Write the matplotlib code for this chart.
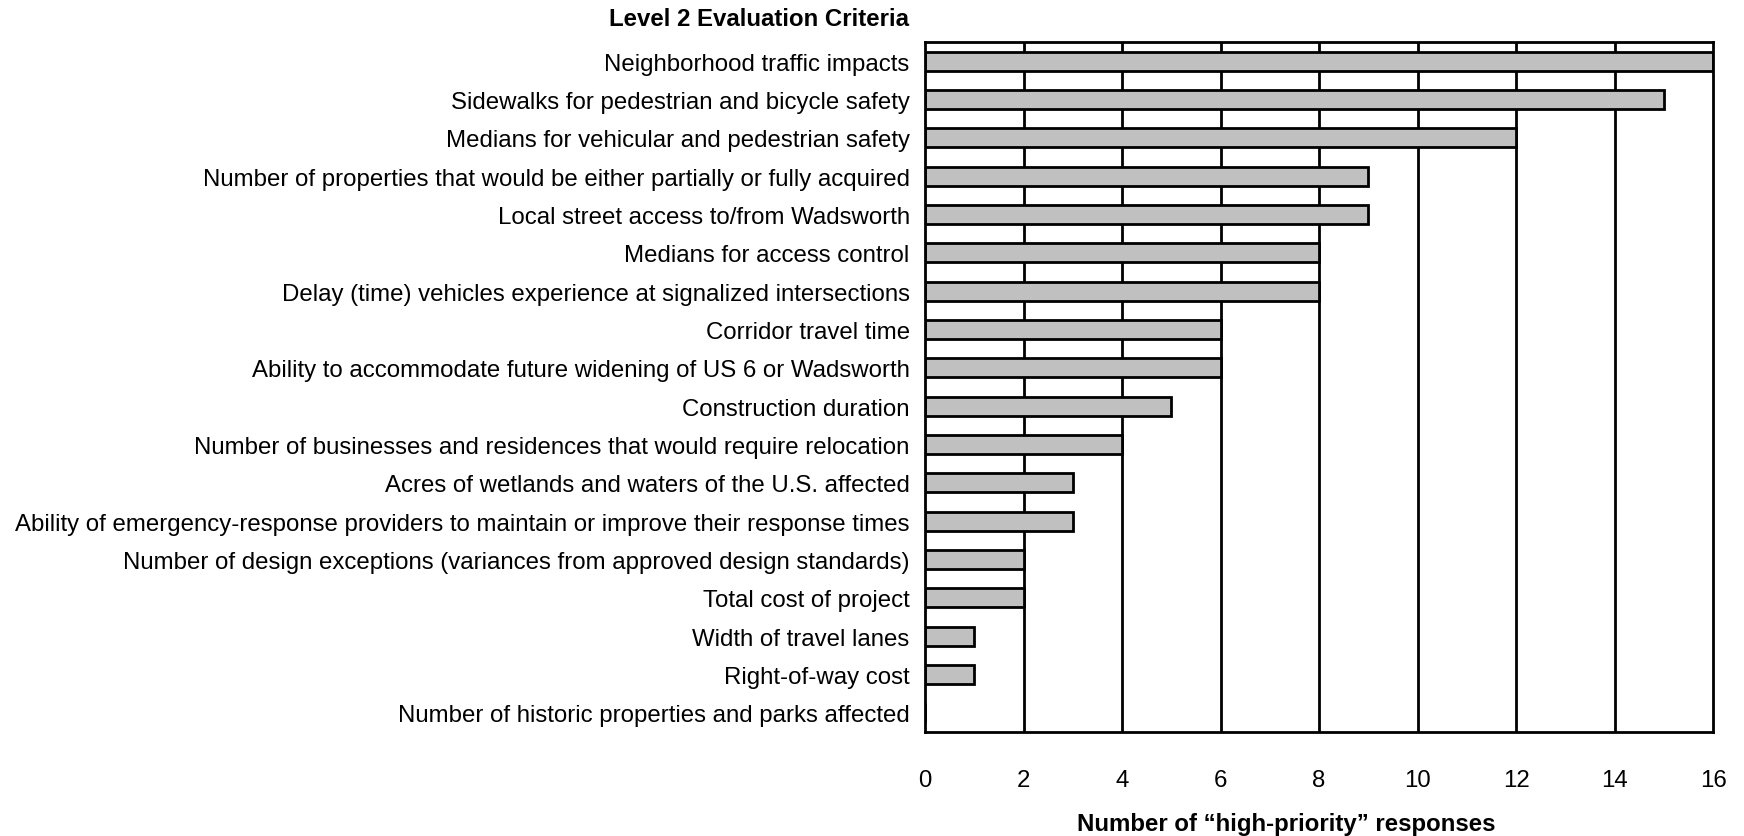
import matplotlib
matplotlib.use("Agg")
import matplotlib.pyplot as plt

plt.rcParams['font.family'] = ['Liberation Sans', 'DejaVu Sans']

criteria = [
    "Neighborhood traffic impacts",
    "Sidewalks for pedestrian and bicycle safety",
    "Medians for vehicular and pedestrian safety",
    "Number of properties that would be either partially or fully acquired",
    "Local street access to/from Wadsworth",
    "Medians for access control",
    "Delay (time) vehicles experience at signalized intersections",
    "Corridor travel time",
    "Ability to accommodate future widening of US 6 or Wadsworth",
    "Construction duration",
    "Number of businesses and residences that would require relocation",
    "Acres of wetlands and waters of the U.S. affected",
    "Ability of emergency-response providers to maintain or improve their response times",
    "Number of design exceptions (variances from approved design standards)",
    "Total cost of project",
    "Width of travel lanes",
    "Right-of-way cost",
    "Number of historic properties and parks affected",
]
responses = [16, 15, 12, 9, 9, 8, 8, 6, 6, 5, 4, 3, 3, 2, 2, 1, 1, 0]
xticks = [0, 2, 4, 6, 8, 10, 12, 14, 16]

FS = 17.25

fig = plt.figure(figsize=(17.44, 8.37), dpi=100)
ax = fig.add_axes([925/1744, 1 - 733/837, (1713-925)/1744, (733-43)/837])

n = len(criteria)
ypos = list(range(n))
ax.barh(ypos, responses, height=0.5, color='#c0c0c0', edgecolor='black',
        linewidth=2, zorder=3)

ax.set_ylim(n - 0.5, -0.5)
ax.set_xlim(0, 16)
ax.set_yticks(ypos)
ax.set_yticklabels(criteria, fontsize=FS)
ax.set_xticks(xticks)
ax.set_xticklabels([str(t) for t in xticks], fontsize=FS)
ax.tick_params(axis='both', length=0)
ax.tick_params(axis='y', pad=11)
ax.tick_params(axis='x', pad=27)
for t in xticks[1:-1]:
    ax.axvline(t, color='black', linewidth=2, zorder=2)
for s in ax.spines.values():
    s.set_linewidth(2)
    s.set_color('black')
    s.set_zorder(4)

fig.text(1077/1744, 1 - 831/837, "Number of \u201chigh-priority\u201d responses",
         ha='left', va='baseline', fontsize=FS, fontweight='bold')
fig.text(909/1744, 1 - 26/837, "Level 2 Evaluation Criteria",
         ha='right', va='baseline', fontsize=FS, fontweight='bold')

fig.savefig("out.png", dpi=100)
